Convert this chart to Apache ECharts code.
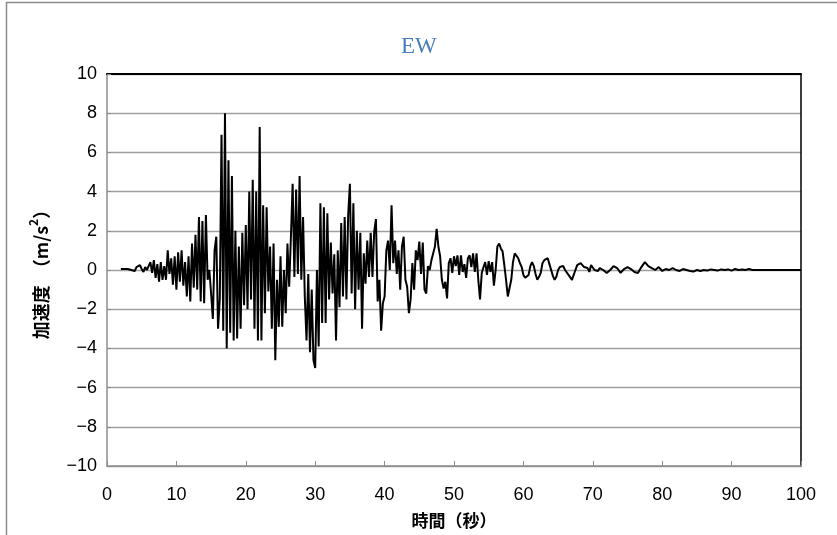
<!DOCTYPE html>
<html>
<head>
<meta charset="utf-8">
<script src="https://cdn.jsdelivr.net/npm/echarts@6/dist/echarts.min.js"></script>
<style>
  html, body { margin: 0; padding: 0; background: #fff; }
  #chart { width: 837px; height: 535px; }
</style>
</head>
<body>
<div id="chart"></div>
<script>
// 加速度 (m/s2)
// fine part: from 2.0 s, one value every 0.25 s (4 per second)
const fineStart = 2.0;
const fineStep = 0.25;
const accelFine = [
  0.05, 0.0, 0.05, -0.05,   // 2
  0.05, 0.1, 0.0, 0.1,      // 3
  -0.05, 0.15, 0.1, 0.25,   // 4
  0.05, -0.1, 0.15, 0.0,    // 5
  -0.1, 0.4, -0.15, 0.5,    // 6
  -0.4, 0.3, -0.6, 0.4,     // 7
  -0.5, 0.2, -0.5, 1.0,     // 8
  -0.2, 0.6, -0.75, 0.7,    // 9
  -1.0, 0.9, -0.6, 1.0,     // 10
  -0.8, 0.4, -1.35, 0.7,    // 11
  -1.6, 1.35, -0.9, 1.8,    // 12
  -1.0, 2.7, -1.6, 2.5,     // 13
  -1.7, 2.8, -0.5, 0.0,     // 14
  -1.2, -2.5, 1.0, 1.7,     // 15
  -3.0, -1.5, 6.9, -3.1,    // 16
  8.0, -4.0, 5.6, -3.2,     // 17
  4.8, -3.6, 2.0, -3.5,     // 18
  1.2, -3.0, 1.9, -1.8,     // 19
  2.3, -2.0, 4.0, -1.5,     // 20
  4.6, -3.0, 4.0, -3.6,     // 21
  7.3, -3.6, 3.3, -2.2,     // 22
  3.2, -1.1, 1.2, -3.0,     // 23
  1.35, -4.6, -0.5, -2.9,   // 24
  0.7, -2.9, 0.0, -2.2,     // 25
  1.35, -0.85, 1.7, 4.4,    // 26
  -0.35, 4.1, -0.2, 4.8,    // 27
  -0.5, 2.7, -1.35, -3.6,   // 28
  -0.2, -4.2, -1.0, -4.6,   // 29
  -5.0, 0.0, -3.9, 3.4,     // 30
  -2.7, 3.2, -2.7, 2.9,     // 31
  -1.5, 1.4, -1.2, 0.8,     // 32
  -3.6, 1.0, -1.9, 2.4,     // 33
  -1.35, 2.7, -1.5, 2.8,    // 34
  4.4, -1.2, 3.4, -2.0,     // 35
  2.0, -1.0, 1.9, -3.0,     // 36
  0.85, -0.7, 1.5, -0.35,   // 37
  1.9, -0.35, 1.95, 2.6,    // 38
  -1.6, -0.5, -3.1, -1.7,   // 39
  -1.35, 1.0, 1.5, 0.0,     // 40
  3.3, 0.35, 1.5, -0.2,     // 41
  1.0, -1.0, 1.2, 1.7,      // 42
  -0.5, -0.85, -2.2, -1.5,  // 43
  0.35, -1.0, 1.0, 0.5,     // 44
  1.45, -0.2, 1.4, -1.0,    // 45
  -1.2, 0.2, 0.0, 0.5,      // 46
  0.5, 1.2, 2.1, 1.2,       // 47
  0.7, -0.5, -0.95, -0.6,   // 48
  -1.45, 0.35, 0.6, -0.15,  // 49
  0.7, 0.2, 0.75, -0.25,    // 50
  0.75, -0.1, 0.3, -0.4,    // 51
  0.6, 0.75, 0.15, 0.85,    // 52
  -0.1, 0.85, -0.5, -1.5,   // 53
  -0.15, 0.15, 0.4, -0.25,  // 54
  0.45, -0.1, 0.4, -0.8,    // 55
  0.0, 1.2, 1.35, 1.1,      // 56
  0.95, 0.25, -0.5, -1.35,  // 57
  -1.45, -0.5, 0.4, 0.85,   // 58
  0.85, 0.6, 0.35, 0.15,    // 59
  -0.25, -0.4, -0.5, -0.25, // 60
  0.2, 0.4, 0.2, -0.2,      // 61
  -0.5, -0.35, -0.15, 0.35, // 62
  0.5, 0.55, 0.6, 0.3,      // 63
  0.0, -0.3, -0.5, -0.35,   // 64
  0.0, 0.15, 0.15, 0.2,     // 65
  0.0, -0.1, -0.25, -0.35,  // 66
  -0.5, -0.25, 0.0, 0.25,   // 67
  0.35, 0.35, 0.25, 0.15,   // 68
  0.25, 0.1, -0.1, 0.25,    // 69
  0.15, 0.0, 0.1, -0.05     // 70
];

// coarse part: from 71 s, one value every 0.5 s
const coarseStart = 71.0;
const coarseStep = 0.5;
const accelCoarse = [
  0.1, 0.0,     // 71
  -0.15, 0.0,   // 72
  0.2, 0.1,     // 73
  -0.15, 0.05,  // 74
  0.15, 0.05,   // 75
  -0.1, -0.15,  // 76
  0.15, 0.4,    // 77
  0.2, 0.1,     // 78
  0.0, 0.15,    // 79
  -0.05, 0.05,  // 80
  0.0, 0.1,     // 81
  0.0, -0.05,   // 82
  0.05, 0.0,    // 83
  -0.05, -0.08, // 84
  0.0, -0.05,   // 85
  0.0, -0.03,   // 86
  0.03, 0.0,    // 87
  -0.03, 0.03,  // 88
  0.0, 0.03,    // 89
  -0.03, 0.05,  // 90
  0.0, 0.03,    // 91
  0.0, 0.05,    // 92
  0.0, 0.0      // 93
];

// record ends flat
const tailTimes = [100];
const tailAccel = [0];

const xTicks = [0, 10, 20, 30, 40, 50, 60, 70, 80, 90, 100];
const yTicks = [-10, -8, -6, -4, -2, 0, 2, 4, 6, 8, 10];

let points = [];
accelFine.forEach((v, i) => points.push([fineStart + i * fineStep, v]));
accelCoarse.forEach((v, i) => points.push([coarseStart + i * coarseStep, v]));
tailTimes.forEach((t, i) => points.push([t, tailAccel[i]]));

const labelFont = "Liberation Sans";
const cjkFont = "Noto Sans CJK JP";

let myChart = echarts.init(document.getElementById("chart"));

var option = {
  animation: false,
  backgroundColor: "#fff",
  title: {
    text: "EW",
    left: 396,
    top: 30,
    textStyle: {
      color: "#4a7ebb",
      fontFamily: "Liberation Serif",
      fontWeight: "normal",
      fontSize: 23
    }
  },
  graphic: [
    {
      type: "rect",
      shape: {x: 6.5, y: 2.5, width: 900, height: 600},
      style: {fill: "none", stroke: "#8c8c8c", lineWidth: 1.5},
      silent: true
    }
  ],
  grid: {
    left: 107,
    right: 36,
    top: 74,
    bottom: 69,
    containLabel: false
  },
  xAxis: [
    {
      type: "value",
      min: xTicks[0],
      max: xTicks[xTicks.length - 1],
      interval: 10,
      name: "時間（秒）",
      nameLocation: "middle",
      nameGap: 46,
      nameTextStyle: {
        fontFamily: cjkFont,
        fontWeight: "bold",
        fontSize: 17,
        color: "#000"
      },
      axisLine: {show: true, onZero: false, lineStyle: {color: "#8c8c8c", width: 1.5}},
      axisTick: {show: true, inside: true, length: 5, lineStyle: {color: "#8c8c8c", width: 1}},
      axisLabel: {
        margin: 20,
        fontFamily: labelFont,
        fontSize: 18,
        color: "#000"
      },
      splitLine: {show: false}
    },
    {
      type: "value",
      position: "top",
      min: 0,
      max: 100,
      axisLine: {show: true, onZero: false, lineStyle: {color: "#000", width: 2}},
      axisTick: {show: false},
      axisLabel: {show: false},
      splitLine: {show: false}
    }
  ],
  yAxis: [
    {
      type: "value",
      min: yTicks[0],
      max: yTicks[yTicks.length - 1],
      interval: 2,
      name: "{a|加速度}{p|（}{a|m/s}{sup|2}{q|）}",
      nameLocation: "middle",
      nameGap: 52,
      nameRotate: 90,
      nameTextStyle: {
        fontFamily: cjkFont,
        fontWeight: "bold",
        fontSize: 18,
        color: "#000",
        rich: {
          a: {
            fontFamily: cjkFont,
            fontWeight: "bold",
            fontSize: 18,
            lineHeight: 28,
            verticalAlign: "middle",
            color: "#000"
          },
          p: {
            fontFamily: cjkFont,
            fontWeight: "bold",
            fontSize: 18,
            lineHeight: 28,
            verticalAlign: "middle",
            padding: [0, 0, 0, 8],
            color: "#000"
          },
          q: {
            fontFamily: cjkFont,
            fontWeight: "bold",
            fontSize: 18,
            lineHeight: 28,
            verticalAlign: "middle",
            color: "#000"
          },
          sup: {
            fontFamily: cjkFont,
            fontWeight: "bold",
            fontSize: 12,
            lineHeight: 16,
            verticalAlign: "top",
            color: "#000"
          }
        }
      },
      axisLine: {show: true, onZero: false, lineStyle: {color: "#8c8c8c", width: 1.5}},
      axisTick: {show: true, inside: true, length: 4, lineStyle: {color: "#8c8c8c", width: 1}},
      axisLabel: {
        margin: 10,
        fontFamily: labelFont,
        fontSize: 18,
        color: "#000",
        formatter: (v) => (v < 0 ? "\u2212" + Math.abs(v) : String(v))
      },
      splitLine: {show: true, lineStyle: {color: "#a0a0a0", width: 1.3}}
    },
    {
      type: "value",
      position: "right",
      min: -10,
      max: 10,
      axisLine: {show: true, onZero: false, lineStyle: {color: "#000", width: 1.5}},
      axisTick: {show: false},
      axisLabel: {show: false},
      splitLine: {show: false}
    }
  ],
  series: [
    {
      type: "line",
      xAxisIndex: 0,
      yAxisIndex: 0,
      data: points,
      showSymbol: false,
      symbol: "none",
      sampling: null,
      lineStyle: {color: "#000", width: 2},
      z: 3
    }
  ]
};

myChart.setOption(option);
</script>
</body>
</html>
